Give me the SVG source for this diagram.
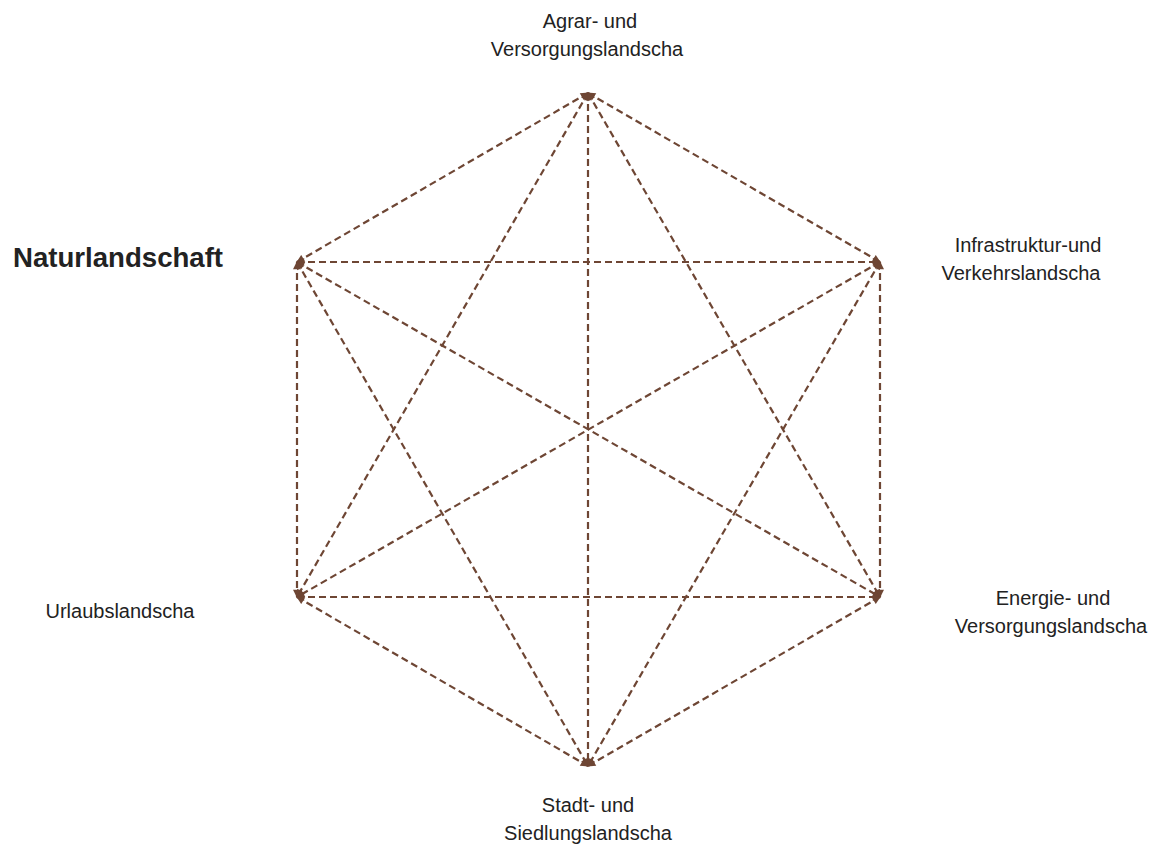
<svg xmlns="http://www.w3.org/2000/svg" width="1156" height="847" viewBox="0 0 1156 847">
<style>
.e{stroke:#6e4634;stroke-width:2.2;stroke-dasharray:7 4;fill:none;marker-start:url(#a);marker-end:url(#a)}
.t{font-family:"Liberation Sans",Arial,sans-serif;font-size:20px;fill:#222;text-anchor:middle}
.b{font-family:"Liberation Sans",Arial,sans-serif;font-size:27.6px;font-weight:bold;fill:#222}
</style>
<defs>
<marker id="a" viewBox="0 0 10 10" refX="9" refY="5" markerWidth="9" markerHeight="8" markerUnits="userSpaceOnUse" orient="auto-start-reverse">
<path d="M0,0 L10,5 L0,10 z" fill="#6e4634"/>
</marker>
</defs>
<rect width="1156" height="847" fill="#fff"/>
<g id="connectors">
<line class="e" x1="588" y1="93" x2="880" y2="262"/>
<line class="e" x1="588" y1="93" x2="297" y2="262"/>
<line class="e" x1="588" y1="93" x2="588" y2="766"/>
<line class="e" x1="588" y1="93" x2="297" y2="597"/>
<line class="e" x1="588" y1="93" x2="880" y2="597"/>
<line class="e" x1="297" y1="262" x2="880" y2="262"/>
<line class="e" x1="297" y1="262" x2="297" y2="597"/>
<line class="e" x1="297" y1="262" x2="880" y2="597"/>
<line class="e" x1="297" y1="262" x2="588" y2="766"/>
<line class="e" x1="880" y1="262" x2="880" y2="597"/>
<line class="e" x1="880" y1="262" x2="297" y2="597"/>
<line class="e" x1="880" y1="262" x2="588" y2="766"/>
<line class="e" x1="297" y1="597" x2="880" y2="597"/>
<line class="e" x1="297" y1="597" x2="588" y2="766"/>
<line class="e" x1="880" y1="597" x2="588" y2="766"/>
</g>
<g id="agrar"><text class="t" x="590" y="28">Agrar- und</text><text class="t" x="587" y="56">Versorgungslandscha</text></g>
<g id="natur"><text class="b" x="13" y="267">Naturlandschaft</text></g>
<g id="infra"><text class="t" x="1028" y="252">Infrastruktur-und</text><text class="t" x="1021" y="280">Verkehrslandscha</text></g>
<g id="urlaub"><text class="t" x="120" y="618">Urlaubslandscha</text></g>
<g id="energie"><text class="t" x="1053" y="605">Energie- und</text><text class="t" x="1051" y="633">Versorgungslandscha</text></g>
<g id="stadt"><text class="t" x="588" y="812">Stadt- und</text><text class="t" x="588" y="840">Siedlungslandscha</text></g>
</svg>
